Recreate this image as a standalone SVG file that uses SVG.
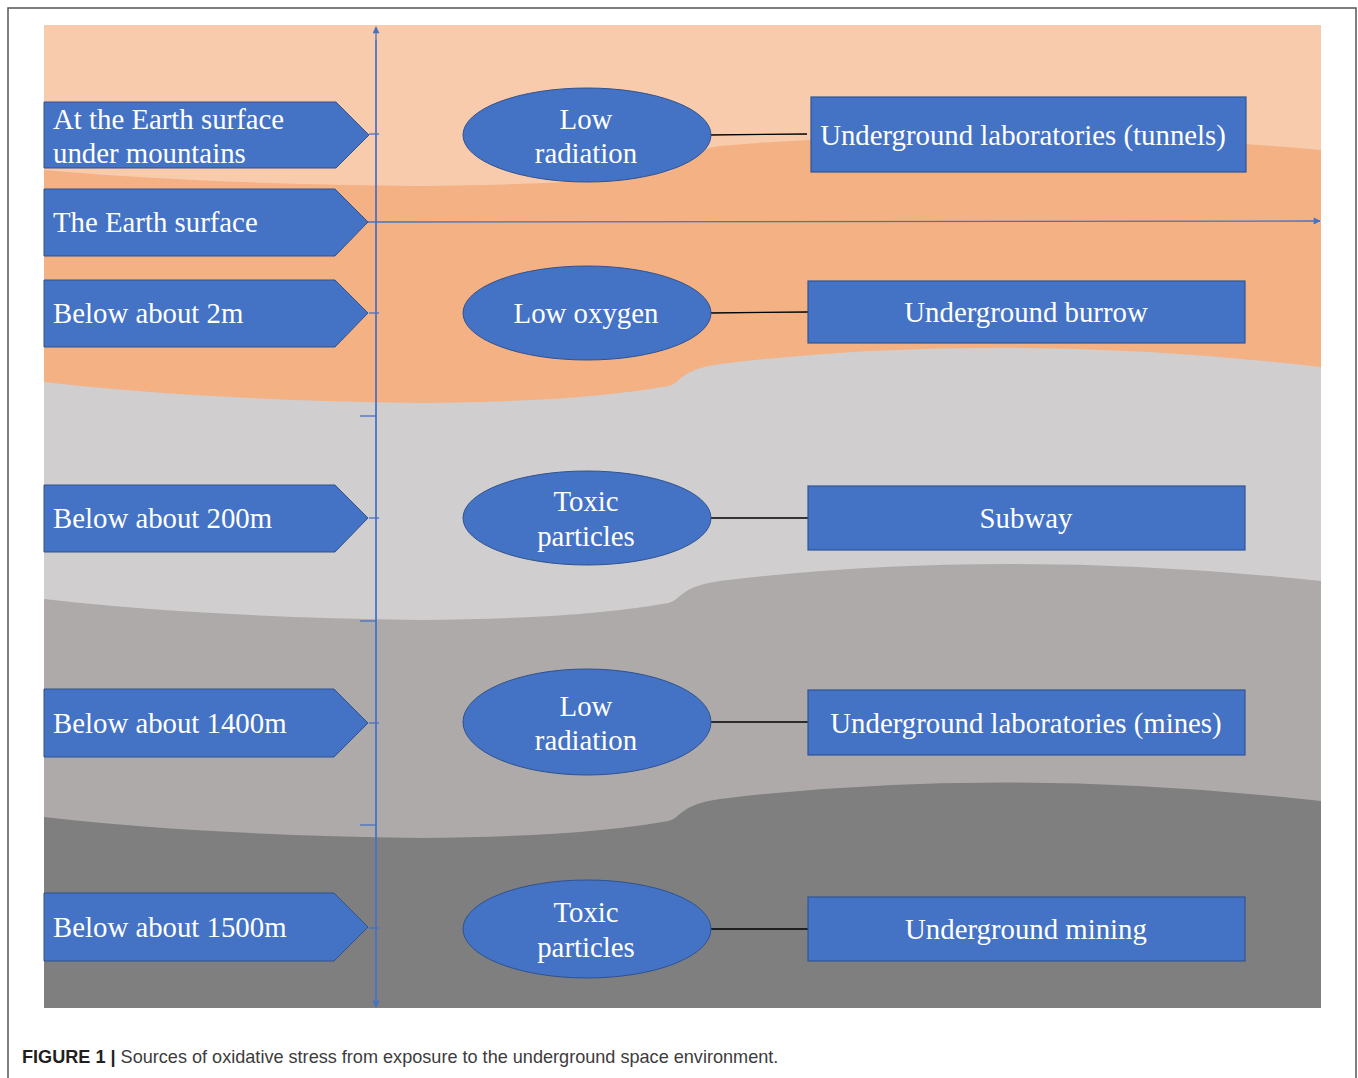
<svg xmlns="http://www.w3.org/2000/svg" width="1358" height="1078" viewBox="0 0 1358 1078">
<defs>
<style>
.pent{fill:#4472C4;stroke:#2F528F;stroke-width:1}
.ell{fill:#4472C4;stroke:#2F528F;stroke-width:1}
.box{fill:#4472C4;stroke:#2F5597;stroke-width:1.2}
.lbl{font-family:"Liberation Serif","Times New Roman",serif;font-size:28.8px;fill:#FFFFFF}
.mid{text-anchor:middle}
.axis{stroke:#4472C4;stroke-width:1.3;fill:none}
.link{stroke:#000000;stroke-width:1.3;fill:none}
.cap{font-family:"Liberation Sans",Arial,sans-serif;font-size:18.1px}
</style>
<marker id="ah" viewBox="0 0 10 10" refX="9" refY="5" markerWidth="9" markerHeight="7" markerUnits="userSpaceOnUse" orient="auto">
<path d="M0,0 L10,5 L0,10 Z" fill="#4472C4"/>
</marker>
</defs>
<rect x="0" y="0" width="1358" height="1078" fill="#FFFFFF"/>
<rect x="8" y="8" width="1348" height="1090" fill="none" stroke="#555555" stroke-width="1.5"/>
<g id="layers">
<rect x="44" y="25" width="1277" height="983" fill="#F8CBAD"/>
<path d="M44,170 Q200,184 420,186 Q580,185 668,172 C682,169 678,152 720,146 Q1000,122 1321,150 V1008 H44 Z" fill="#F4B183"/>
<path d="M44,382 Q200,400 420,403 Q580,402 668,386 C682,383 678,370 720,364 Q1000,330 1321,367 V1008 H44 Z" fill="#D0CECE"/>
<path d="M44,599 Q200,617 420,620 Q580,619 668,603 C682,600 678,587 720,581 Q1000,547 1321,581 V1008 H44 Z" fill="#AEAAAA"/>
<path d="M44,817 Q200,835 420,838 Q580,837 668,821 C682,818 678,805 720,799 Q1000,765 1321,801 V1008 H44 Z" fill="#7F7F7F"/>
</g>
<g id="connectors">
<line class="axis" x1="376" y1="1006" x2="376" y2="27" marker-end="url(#ah)"/>
<line class="axis" x1="376" y1="40" x2="376" y2="1007" marker-end="url(#ah)"/>
<line class="axis" x1="368" y1="222" x2="1320" y2="221" marker-end="url(#ah)"/>
<line class="axis" x1="369" y1="134" x2="379" y2="134"/>
<line class="axis" x1="369" y1="313" x2="379" y2="313"/>
<line class="axis" x1="369" y1="518" x2="379" y2="518"/>
<line class="axis" x1="369" y1="723" x2="379" y2="723"/>
<line class="axis" x1="369" y1="928" x2="379" y2="928"/>
<line class="axis" x1="360" y1="416" x2="376" y2="416"/>
<line class="axis" x1="360" y1="621" x2="376" y2="621"/>
<line class="axis" x1="360" y1="825" x2="376" y2="825"/>
<line class="link" x1="709" y1="135" x2="807" y2="134"/>
<line class="link" x1="710" y1="313" x2="808" y2="312"/>
<line class="link" x1="710" y1="518" x2="808" y2="518"/>
<line class="link" x1="710" y1="722" x2="808" y2="722"/>
<line class="link" x1="710" y1="929" x2="808" y2="929"/>
</g>
<g id="depth-surface-mountains">
<path class="pent" d="M44,102 H336 L369,135 L336,168 H44 Z"/>
<text class="lbl" x="53" y="129">At the Earth surface</text>
<text class="lbl" x="53" y="163">under mountains</text>
</g>
<g id="depth-surface">
<path class="pent" d="M44,189 H335 L368,222 L335,256 H44 Z"/>
<text class="lbl" x="53" y="232">The Earth surface</text>
</g>
<g id="depth-2m">
<path class="pent" d="M44,280 H335 L368,313 L335,347 H44 Z"/>
<text class="lbl" x="53" y="323">Below about 2m</text>
</g>
<g id="depth-200m">
<path class="pent" d="M44,485 H335 L368,518 L335,552 H44 Z"/>
<text class="lbl" x="53" y="528">Below about 200m</text>
</g>
<g id="depth-1400m">
<path class="pent" d="M44,689 H334 L368,723 L334,757 H44 Z"/>
<text class="lbl" x="53" y="733">Below about 1400m</text>
</g>
<g id="depth-1500m">
<path class="pent" d="M44,893 H334 L368,927 L334,961 H44 Z"/>
<text class="lbl" x="53" y="937">Below about 1500m</text>
</g>
<g id="factor-low-radiation-1">
<ellipse class="ell" cx="587" cy="135" rx="124" ry="47"/>
<text class="lbl mid" x="586" y="129">Low</text>
<text class="lbl mid" x="586" y="163">radiation</text>
</g>
<g id="factor-low-oxygen">
<ellipse class="ell" cx="587" cy="313" rx="124" ry="47"/>
<text class="lbl mid" x="586" y="323">Low oxygen</text>
</g>
<g id="factor-toxic-1">
<ellipse class="ell" cx="587" cy="518" rx="124" ry="47"/>
<text class="lbl mid" x="586" y="511">Toxic</text>
<text class="lbl mid" x="586" y="546">particles</text>
</g>
<g id="factor-low-radiation-2">
<ellipse class="ell" cx="587" cy="722" rx="124" ry="53"/>
<text class="lbl mid" x="586" y="716">Low</text>
<text class="lbl mid" x="586" y="750">radiation</text>
</g>
<g id="factor-toxic-2">
<ellipse class="ell" cx="587" cy="929" rx="124" ry="49"/>
<text class="lbl mid" x="586" y="922">Toxic</text>
<text class="lbl mid" x="586" y="957">particles</text>
</g>
<g id="site-tunnels">
<rect class="box" x="811" y="97" width="435" height="75"/>
<text class="lbl mid" x="1023" y="145">Underground laboratories (tunnels)</text>
</g>
<g id="site-burrow">
<rect class="box" x="808" y="281" width="437" height="62"/>
<text class="lbl mid" x="1026" y="322">Underground burrow</text>
</g>
<g id="site-subway">
<rect class="box" x="808" y="486" width="437" height="64"/>
<text class="lbl mid" x="1026" y="528">Subway</text>
</g>
<g id="site-mines">
<rect class="box" x="808" y="690" width="437" height="65"/>
<text class="lbl mid" x="1026" y="733">Underground laboratories (mines)</text>
</g>
<g id="site-mining">
<rect class="box" x="808" y="897" width="437" height="64"/>
<text class="lbl mid" x="1026" y="939">Underground mining</text>
</g>
<g id="caption">
<text class="cap" x="22" y="1063"><tspan font-weight="bold" fill="#231F20">FIGURE 1 |</tspan><tspan fill="#3C3C3C"> Sources of oxidative stress from exposure to the underground space environment.</tspan></text>
</g>
</svg>
